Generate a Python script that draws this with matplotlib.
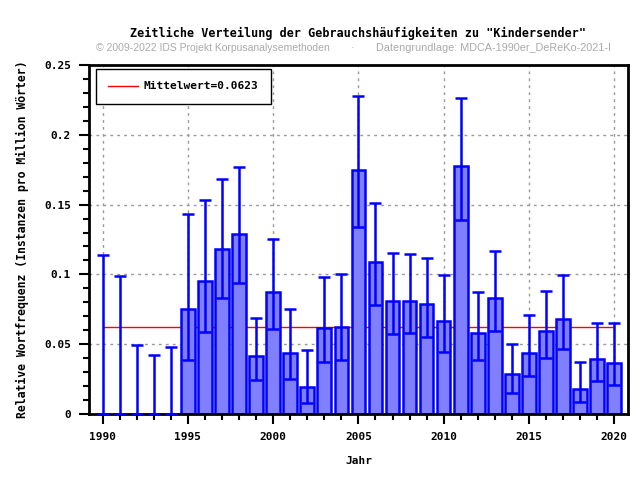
import matplotlib.pyplot as plt
import numpy as np
from matplotlib.ticker import MultipleLocator

# Daten
jahre = list(range(1990, 2021))
werte = [0, 0, 0, 0, 0,
         0.075, 0.095, 0.1184, 0.1292, 0.0413,
         0.0876, 0.0439, 0.0196, 0.0614, 0.0625,
         0.175, 0.1091, 0.0812, 0.0812, 0.079,
         0.0668, 0.1779, 0.0583, 0.0833, 0.0284,
         0.0439, 0.0597, 0.0683, 0.0181, 0.0396, 0.0368]
oben = [0.114, 0.099, 0.0496, 0.0425, 0.048,
        0.143, 0.1535, 0.1686, 0.1772, 0.069,
        0.1254, 0.0754, 0.0458, 0.0981, 0.1005,
        0.228, 0.1514, 0.1156, 0.1148, 0.112,
        0.0996, 0.2266, 0.0876, 0.1168, 0.0501,
        0.0709, 0.0883, 0.0996, 0.0372, 0.0652, 0.0652]
unten = [0, 0, 0, 0, 0,
         0.0389, 0.059, 0.0833, 0.094, 0.0244,
         0.0609, 0.0251, 0.0079, 0.0372, 0.0387,
         0.1342, 0.0781, 0.0573, 0.058, 0.0554,
         0.0444, 0.139, 0.0389, 0.0595, 0.0153,
         0.0274, 0.0403, 0.0468, 0.0088, 0.0239, 0.021]
mittelwert = 0.0623

mono = "DejaVu Sans Mono"

fig = plt.figure(figsize=(6.4, 4.8), dpi=100)
ax = fig.add_axes([0.139, 0.1375, 0.842, 0.727])

x = np.array(jahre)
y = np.array(werte)
yerr = np.array([y - np.array(unten), np.array(oben) - y])

ax.bar(x, y, width=0.8, color="#8080ff", edgecolor="#0000ff", linewidth=1.8, zorder=2)
ax.errorbar(x, y, yerr=yerr, fmt="none", ecolor="#0000ff", elinewidth=1.8,
            capsize=4, capthick=1.8, zorder=3)
ax.plot([jahre[0], jahre[-1]], [mittelwert, mittelwert], color="red", linewidth=1,
        zorder=1.5, label=f"Mittelwert={mittelwert}")

ax.set_xlim(1989.2, 2020.8)
ax.set_ylim(0, 0.25)
ax.xaxis.set_major_locator(MultipleLocator(5))
ax.xaxis.set_minor_locator(MultipleLocator(1))
ax.yaxis.set_major_locator(MultipleLocator(0.05))
ax.yaxis.set_minor_locator(MultipleLocator(0.01))
ax.set_yticks([0, 0.05, 0.1, 0.15, 0.2, 0.25])
ax.set_yticklabels(["0", "0.05", "0.1", "0.15", "0.2", "0.25"])

ax.grid(True, which="major", color="#999999", linestyle=(0, (2, 3)), linewidth=1, zorder=0)
ax.set_axisbelow(True)
for s in ax.spines.values():
    s.set_linewidth(2)
ax.tick_params(which="major", direction="out", length=7, width=1.5, pad=6)
ax.tick_params(which="minor", direction="out", length=4, width=1.5)

for lab in ax.get_xticklabels() + ax.get_yticklabels():
    lab.set_fontfamily(mono)
    lab.set_fontweight("bold")
    lab.set_fontsize(8)

ax.set_xlabel("Jahr", fontfamily=mono, fontweight="bold", fontsize=8, labelpad=10)
ax.set_ylabel("Relative Wortfrequenz (Instanzen pro Million Wörter)",
              fontfamily=mono, fontweight="bold", fontsize=8.3, labelpad=11)

fig.text(0.56, 0.922, 'Zeitliche Verteilung der Gebrauchshäufigkeiten zu "Kindersender"',
         ha="center", fontfamily=mono, fontweight="bold", fontsize=8.5)
fig.text(0.15, 0.893, "© 2009-2022 IDS Projekt Korpusanalysemethoden", color="#aaaaaa",
         fontsize=7.5, fontfamily="Liberation Sans")
fig.text(0.548, 0.893, "·", color="#aaaaaa", fontsize=7.5, fontfamily="Liberation Sans")
fig.text(0.587, 0.893, "Datengrundlage: MDCA-1990er_DeReKo-2021-I", color="#aaaaaa",
         fontsize=7.8, fontfamily="Liberation Sans", ha="left")

leg = ax.legend(loc="upper left", prop={"family": mono, "weight": "bold", "size": 8},
                fancybox=False, framealpha=1, edgecolor="black", borderpad=1.1,
                handlelength=2.7, handletextpad=0.5, borderaxespad=0,
                bbox_to_anchor=(0.013, 0.988))
leg.get_frame().set_linewidth(1)

fig.savefig("out.png", dpi=100)
